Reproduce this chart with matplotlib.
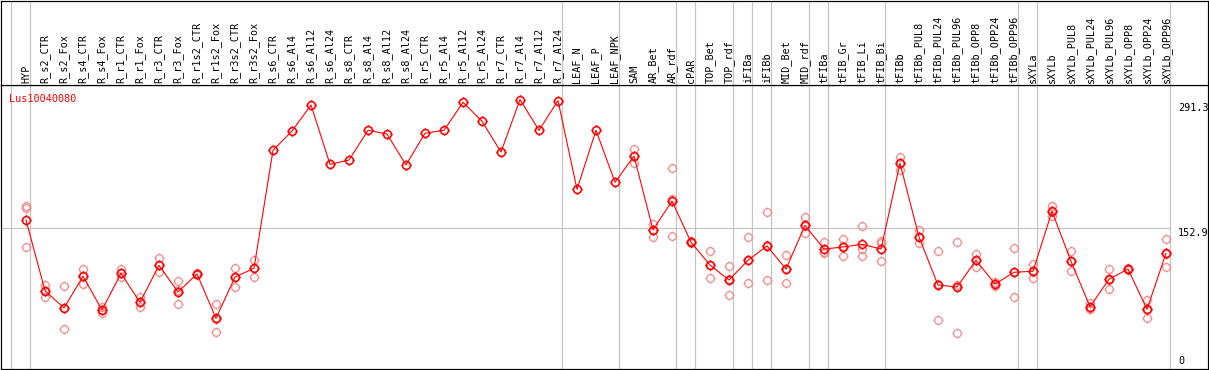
import numpy as np
import matplotlib
matplotlib.use("Agg")
import matplotlib.pyplot as plt
from matplotlib.path import Path

# ---------------- data ----------------
categories = [
    "HYP", "R_s2_CTR", "R_s2_Fox", "R_s4_CTR", "R_s4_Fox", "R_r1_CTR", "R_r1_Fox",
    "R_r3_CTR", "R_r3_Fox", "R_r1s2_CTR", "R_r1s2_Fox", "R_r3s2_CTR", "R_r3s2_Fox",
    "R_s6_CTR", "R_s6_Al4", "R_s6_Al12", "R_s6_Al24",
    "R_s8_CTR", "R_s8_Al4", "R_s8_Al12", "R_s8_Al24",
    "R_r5_CTR", "R_r5_Al4", "R_r5_Al12", "R_r5_Al24",
    "R_r7_CTR", "R_r7_Al4", "R_r7_Al12", "R_r7_Al24",
    "LEAF_N", "LEAF_P", "LEAF_NPK", "SAM", "AR_Bet", "AR_rdf", "cPAR",
    "TOP_Bet", "TOP_rdf", "iFIBa", "iFIBb", "MID_Bet", "MID_rdf",
    "tFIBa", "tFIB_Gr", "tFIB_Li", "tFIB_Bi", "tFIBb",
    "tFIBb_PUL8", "tFIBb_PUL24", "tFIBb_PUL96", "tFIBb_OPP8", "tFIBb_OPP24", "tFIBb_OPP96",
    "sXYLa", "sXYLb",
    "sXYLb_PUL8", "sXYLb_PUL24", "sXYLb_PUL96", "sXYLb_OPP8", "sXYLb_OPP24", "sXYLb_OPP96",
]

mean_values = [
    161.8, 85.8, 67.2, 101.3, 65.1, 104.5, 73.3, 113.1, 84.4, 103.8, 56.1, 100.5, 109.9,
    236.8, 257.5, 285.5, 221.7,
    226.3, 258.3, 254.3, 221.0,
    255.1, 258.3, 288.4, 268.0,
    234.9, 291.3, 258.3, 290.2,
    194.8, 258.3, 202.4, 230.6, 151.1, 182.3, 137.9,
    113.4, 97.3, 118.5, 133.9, 109.1, 156.1,
    130.6, 132.8, 135.7, 130.6, 222.8,
    143.5, 91.9, 89.8, 118.5, 93.0, 105.6,
    106.7, 171.2,
    117.4, 68.6, 98.1, 109.1, 65.8, 126.0,
]

nan = np.nan
rep1 = [
    176.9, 91.9, 90.5, 109.1, 68.3, 108.8, 78.7, 121.0, 95.9, 104.8, 71.2, 109.9, 118.5,
    nan, nan, nan, nan, nan, nan, nan, nan, nan, nan, nan, nan, nan, nan, nan, nan,
    nan, nan, nan, 237.9, 157.5, 218.1, 139.3,
    128.2, 112.4, 143.5, 170.1, 124.2, 165.4,
    138.2, 141.4, 155.4, 138.9, 229.6,
    151.1, 128.2, 137.9, 125.3, 95.5, 131.7,
    114.5, 176.9,
    128.2, 72.9, 108.8, 110.5, 75.8, 141.4,
]
rep2 = [
    175.1, 85.8, 67.2, 101.6, 65.1, 104.3, 73.3, 112.9, 86.6, 103.8, 55.9, 100.5, 110.2,
    nan, nan, nan, nan, nan, nan, nan, nan, nan, nan, nan, nan, nan, nan, nan, nan,
    nan, nan, nan, 230.6, 151.1, 184.4, 137.9,
    113.4, 98.4, 118.8, 134.9, 109.1, 155.4,
    127.7, 133.9, 130.3, 137.1, 223.1,
    143.5, 93.3, 91.6, 118.8, 93.0, 106.2,
    106.2, 170.4,
    117.4, 66.5, 97.3, 108.8, 65.4, 125.6,
]
rep3 = [
    132.5, 79.4, 44.3, 93.0, 61.5, 100.9, 68.0, 105.9, 71.2, 102.7, 41.7, 90.1, 100.9,
    nan, nan, nan, nan, nan, nan, nan, nan, nan, nan, nan, nan, nan, nan, nan, nan,
    nan, nan, nan, 223.4, 143.9, 144.3, 136.6,
    99.1, 80.9, 93.8, 97.0, 94.1, 147.5,
    126.0, 123.1, 123.1, 117.7, 215.6,
    136.8, 54.3, 40.0, 111.6, 90.5, 78.7,
    99.1, 166.1,
    106.7, 66.5, 88.0, 108.1, 56.1, 111.0,
]

# group boundaries (category index where a new group starts)
group_starts = [0, 1, 29, 32, 35, 36, 38, 39, 40, 42, 43, 46, 53, 54, 61]

y_ticks = [0, 152.9, 291.3]
gene_name = "Lus10040080"

# ---------------- layout ----------------
W, H = 1209, 370
DPI = 100
fig = plt.figure(figsize=(W / DPI, H / DPI), dpi=DPI)
fig.patch.set_facecolor("white")

px = 1.0 / DPI * 72  # one pixel in points
FONT = "DejaVu Sans Mono"
FS = 7.3

x = np.arange(len(categories))
xmin = (1 - 26) / 19.0
xmax = (1208 - 26) / 19.0

# main plot axes: pixels y 85..369
ax = fig.add_axes([1 / W, 1 / H, 1207 / W, 284 / H])
ax.set_xlim(xmin, xmax)
ax.set_ylim(1.6, 307.0)
ax.set_xticks([])
ax.set_yticks([])
for s in ax.spines.values():
    s.set_color("black")
    s.set_linewidth(1.2 * px)

# label axes: pixels y 0..85
lax = fig.add_axes([1 / W, 285 / H, 1207 / W, 84.5 / H])
lax.set_xlim(xmin, xmax)
lax.set_ylim(0, 1)
lax.set_xticks([])
lax.set_yticks([])
for s in lax.spines.values():
    s.set_color("black")
    s.set_linewidth(1.2 * px)

grid_c = "#c4c4c4"
sep_offset = 15 / 19.0
for g in group_starts:
    ax.axvline(g - sep_offset, color=grid_c, lw=1.2 * px, zorder=1)
    lax.axvline(g - sep_offset, color=grid_c, lw=1.2 * px, zorder=1)

ax.plot([xmin, (1170 - 26) / 19.0], [y_ticks[1], y_ticks[1]], color=grid_c,
        lw=1.2 * px, zorder=1)

# custom marker: circle with small ticks
circ = Path.unit_circle()
tk = Path([(1, 0), (1.3, 0), (-1, 0), (-1.3, 0), (0, 1), (0, 1.3), (0, -1), (0, -1.3)],
          [Path.MOVETO, Path.LINETO] * 4)
mk = Path.make_compound_path(circ, tk)

rep_c = "#ef8f8f"
for r in (rep1, rep2, rep3):
    ax.plot(x, r, linestyle="none", marker=mk, markersize=10 * px,
            markerfacecolor="none", markeredgecolor=rep_c, markeredgewidth=1.3 * px,
            zorder=2)

ax.plot(x, mean_values, color="red", lw=1.1 * px, zorder=3)
ax.plot(x, mean_values, linestyle="none", marker=mk, markersize=10.2 * px,
        markerfacecolor="none", markeredgecolor="red", markeredgewidth=1.6 * px,
        zorder=4)

# category labels
for i, name in enumerate(categories):
    lax.text(i, 2.0 / 85, name, rotation=90, ha="center", va="bottom",
             family=FONT, fontsize=FS, color="black")

# gene name
ax.text(8.5 / 1207, (369 - 101.5) / 284, gene_name, transform=ax.transAxes,
        ha="left", va="baseline", family=FONT, fontsize=FS, color="red")

# y tick labels on the right
xlab = (1178 - 1) / 1207.0
tr = ax.get_yaxis_transform()
ax.annotate(f"{y_ticks[2]}", xy=(xlab, y_ticks[2]), xycoords=tr,
            xytext=(0, -3.5), textcoords="offset pixels",
            ha="left", va="top", family=FONT, fontsize=FS, color="black")
ax.annotate(f"{y_ticks[1]}", xy=(xlab, y_ticks[1]), xycoords=tr,
            xytext=(0, 0), textcoords="offset pixels",
            ha="left", va="top", family=FONT, fontsize=FS, color="black")
ax.annotate(f"{y_ticks[0]}", xy=(xlab, y_ticks[0]), xycoords=tr,
            xytext=(0, 4.5), textcoords="offset pixels",
            ha="left", va="bottom", family=FONT, fontsize=FS, color="black",
            annotation_clip=False)

fig.savefig("out.png", dpi=DPI, facecolor="white")
